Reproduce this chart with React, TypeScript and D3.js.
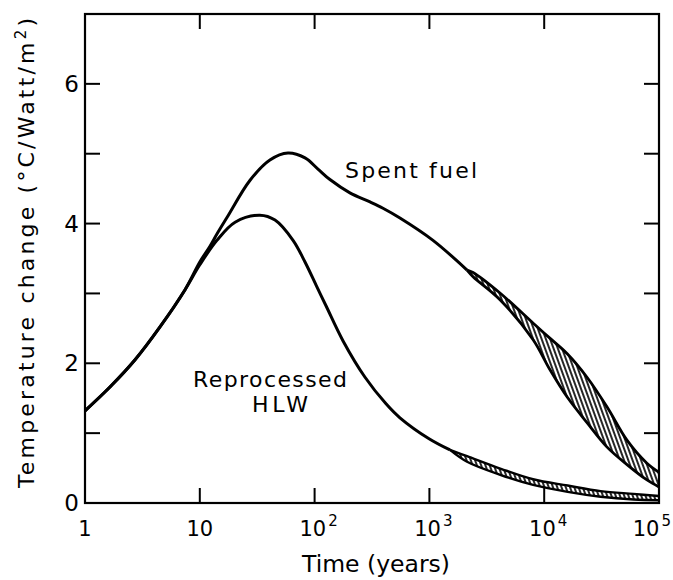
import React from "react";
import * as d3 from "d3";

// ---- data ----
const X_TICKS = [1, 10, 100, 1000, 10000, 100000];
const X_TICK_BASE = ["1", "10", "10", "10", "10", "10"];
const X_TICK_EXP = ["", "", "2", "3", "4", "5"];
const Y_TICKS = [0, 2, 4, 6];
const Y_MINOR = [1, 2, 3, 4, 5, 6];

const SPENT_T = [1, 1.65, 2.73, 4.5, 7.42, 10, 12.3, 14.1, 17.3, 27.4, 40.8, 58.6, 82.5, 107, 136, 203, 304, 394, 554, 1075, 2128];
const SPENT_Y = [1.32, 1.66, 2.05, 2.52, 3.05, 3.45, 3.68, 3.85, 4.09, 4.62, 4.91, 5.01, 4.94, 4.78, 4.63, 4.44, 4.31, 4.22, 4.08, 3.76, 3.335];

const SPENT_BAND_T = [2128, 2400, 4120, 7980, 11200, 15800, 23600, 35300, 52600, 78500, 100000];
const SPENT_BAND_HI = [3.335, 3.3, 3.006, 2.577, 2.36, 2.14, 1.8, 1.374, 0.9, 0.57, 0.44];
const SPENT_BAND_LO = [3.335, 3.24, 2.91, 2.34, 1.91, 1.52, 1.15, 0.8, 0.55, 0.33, 0.23];

const HLW_T = [1, 1.65, 2.73, 4.5, 7.42, 10, 14.1, 20.3, 33.4, 45.2, 64.9, 82.5, 105, 126, 177, 275, 419, 554, 993, 1511];
const HLW_Y = [1.32, 1.66, 2.05, 2.52, 3.05, 3.41, 3.76, 4.02, 4.12, 4.05, 3.76, 3.45, 3.09, 2.82, 2.32, 1.8, 1.42, 1.22, 0.92, 0.76];

const HLW_BAND_T = [1511, 2128, 4200, 8000, 16000, 31000, 60000, 100000];
const HLW_BAND_HI = [0.76, 0.67, 0.49, 0.34, 0.25, 0.17, 0.13, 0.1];
const HLW_BAND_LO = [0.76, 0.59, 0.4, 0.26, 0.16, 0.09, 0.05, 0.04];

const W = 673;
const H = 580;
const L = 85, R = 659, T = 14, B = 503;
const FONT = "'DejaVu Sans', 'Liberation Sans', sans-serif";

export default function App() {
  const x = d3.scaleLog().domain([1, 1e5]).range([L, R]);
  const y = d3.scaleLinear().domain([0, 7]).range([B, T]);
  const curve = d3.curveCatmullRom.alpha(0.5);

  const line = d3
    .line<[number, number]>()
    .x((d) => x(d[0]))
    .y((d) => y(d[1]))
    .curve(curve);

  const area = d3
    .area<[number, number, number]>()
    .x((d) => x(d[0]))
    .y0((d) => y(d[2]))
    .y1((d) => y(d[1]))
    .curve(curve);

  const spent = SPENT_T.map((t, i) => [t, SPENT_Y[i]] as [number, number]);
  const hlw = HLW_T.map((t, i) => [t, HLW_Y[i]] as [number, number]);
  const sb = SPENT_BAND_T.map((t, i) => [t, SPENT_BAND_HI[i], SPENT_BAND_LO[i]] as [number, number, number]);
  const hb = HLW_BAND_T.map((t, i) => [t, HLW_BAND_HI[i], HLW_BAND_LO[i]] as [number, number, number]);

  const tickLen = 15;

  return (
    <svg
      width={W}
      height={H}
      style={{ position: "absolute", left: 0, top: 0, background: "#fff" }}
      fontFamily={FONT}
    >
      <defs>
        <pattern id="hatch" width="4" height="6" patternUnits="userSpaceOnUse" patternTransform="rotate(-20)">
          <rect width="4" height="6" fill="#fff" />
          <line x1="1" y1="0" x2="1" y2="6" stroke="#000" strokeWidth="1.7" />
        </pattern>
      </defs>
      <rect width={W} height={H} fill="#fff" />

      {/* bands */}
      <path d={area(sb) ?? ""} fill="url(#hatch)" stroke="none" />
      <path d={area(hb) ?? ""} fill="url(#hatch)" stroke="none" />
      <path d={line(sb.map((d) => [d[0], d[1]] as [number, number])) ?? ""} fill="none" stroke="#000" strokeWidth={2.8} />
      <path d={line(sb.map((d) => [d[0], d[2]] as [number, number])) ?? ""} fill="none" stroke="#000" strokeWidth={2.8} />
      <path d={line(hb.map((d) => [d[0], d[1]] as [number, number])) ?? ""} fill="none" stroke="#000" strokeWidth={2.4} />
      <path d={line(hb.map((d) => [d[0], d[2]] as [number, number])) ?? ""} fill="none" stroke="#000" strokeWidth={2.4} />

      {/* curves */}
      <path d={line(spent) ?? ""} fill="none" stroke="#000" strokeWidth={3} strokeLinejoin="round" />
      <path d={line(hlw) ?? ""} fill="none" stroke="#000" strokeWidth={3} strokeLinejoin="round" />

      {/* frame */}
      <rect x={L} y={T} width={R - L} height={B - T} fill="none" stroke="#000" strokeWidth={2.2} />

      {/* y ticks, both sides */}
      {Y_MINOR.map((v) => (
        <g key={"yt" + v}>
          <line x1={L} x2={L + tickLen} y1={y(v)} y2={y(v)} stroke="#000" strokeWidth={2} />
          <line x1={R} x2={R - tickLen} y1={y(v)} y2={y(v)} stroke="#000" strokeWidth={2} />
        </g>
      ))}
      {/* x ticks, top and bottom */}
      {X_TICKS.slice(1, -1).map((v) => (
        <g key={"xt" + v}>
          <line x1={x(v)} x2={x(v)} y1={B} y2={B - tickLen} stroke="#000" strokeWidth={2} />
          <line x1={x(v)} x2={x(v)} y1={T} y2={T + tickLen} stroke="#000" strokeWidth={2} />
        </g>
      ))}

      {/* y tick labels */}
      {Y_TICKS.map((v) => (
        <text key={"yl" + v} x={79} y={y(v) + 8} textAnchor="end" fontSize={23}>
          {v}
        </text>
      ))}

      {/* x tick labels */}
      {X_TICKS.map((v, i) => {
        const last = i === X_TICKS.length - 1;
        return (
          <text
            key={"xl" + v}
            x={last ? 671 : x(v) + (X_TICK_EXP[i] ? 4 : 0)}
            y={536}
            textAnchor={last ? "end" : "middle"}
            fontSize={21}
          >
            {X_TICK_BASE[i]}
            {X_TICK_EXP[i] ? (
              <tspan dx={2} dy={-10} fontSize={15}>
                {X_TICK_EXP[i]}
              </tspan>
            ) : null}
          </text>
        );
      })}

      {/* axis titles */}
      <text x={376} y={572} textAnchor="middle" fontSize={23} textLength={148} lengthAdjust="spacingAndGlyphs">
        Time (years)
      </text>
      <text
        transform="translate(34,253) rotate(-90)"
        textAnchor="middle"
        fontSize={22}
        textLength={470}
        lengthAdjust="spacing"
      >
        Temperature change (°C/Watt/m<tspan dy={-8} fontSize={15}>2</tspan><tspan dy={8}>)</tspan>
      </text>

      {/* annotations */}
      <text x={345} y={178} fontSize={22} textLength={132} lengthAdjust="spacing">
        Spent fuel
      </text>
      <text x={193} y={387} fontSize={22} textLength={154} lengthAdjust="spacing">
        Reprocessed
      </text>
      <text x={252} y={412} fontSize={22} textLength={56} lengthAdjust="spacing">
        HLW
      </text>
    </svg>
  );
}
